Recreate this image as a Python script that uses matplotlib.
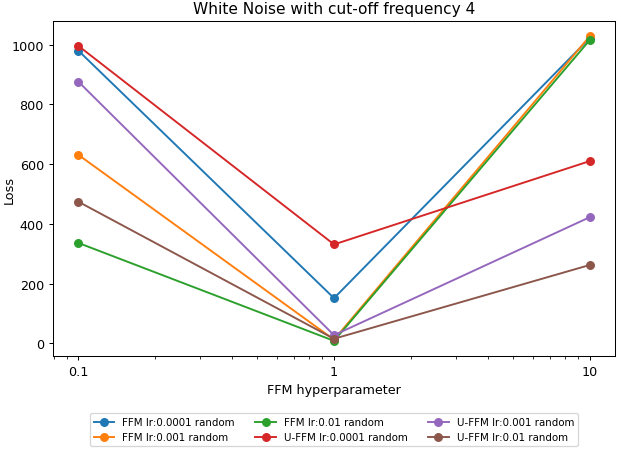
import numpy as np
import matplotlib.pyplot as plt
from matplotlib.ticker import FixedLocator, FixedFormatter

x = [0.1, 1, 10]

labels = ['FFM lr:0.0001 random', 'FFM lr:0.001 random', 'FFM lr:0.01 random',
          'U-FFM lr:0.0001 random', 'U-FFM lr:0.001 random', 'U-FFM lr:0.01 random']
ffm_1e4 = [980, 151, 1022]
ffm_1e3 = [631, 12, 1028]
ffm_1e2 = [336, 8, 1015]
uffm_1e4 = [996, 331, 610]
uffm_1e3 = [876, 27, 422]
uffm_1e2 = [474, 15, 262]
series = [ffm_1e4, ffm_1e3, ffm_1e2, uffm_1e4, uffm_1e3, uffm_1e2]

dpi = 92
fig = plt.figure(figsize=(622 / dpi, 452 / dpi), dpi=dpi)
ax = fig.add_axes([0.085, 0.21, 0.904, 0.741])
for y, lab in zip(series, labels):
    ax.plot(x, y, marker='o', label=lab)

ax.set_xscale('log')
ax.xaxis.set_major_locator(FixedLocator([0.1, 1, 10]))
ax.xaxis.set_major_formatter(FixedFormatter(['0.1', '1', '10']))
ax.set_title('White Noise with cut-off frequency 4')
ax.set_xlabel('FFM hyperparameter')
ax.set_ylabel('Loss')
ax.yaxis.set_label_coords(-0.066, 0.5)
ax.legend(loc='upper center', bbox_to_anchor=(0.5, -0.155), ncol=3, fontsize=8)

plt.savefig('out.png', dpi=dpi)
